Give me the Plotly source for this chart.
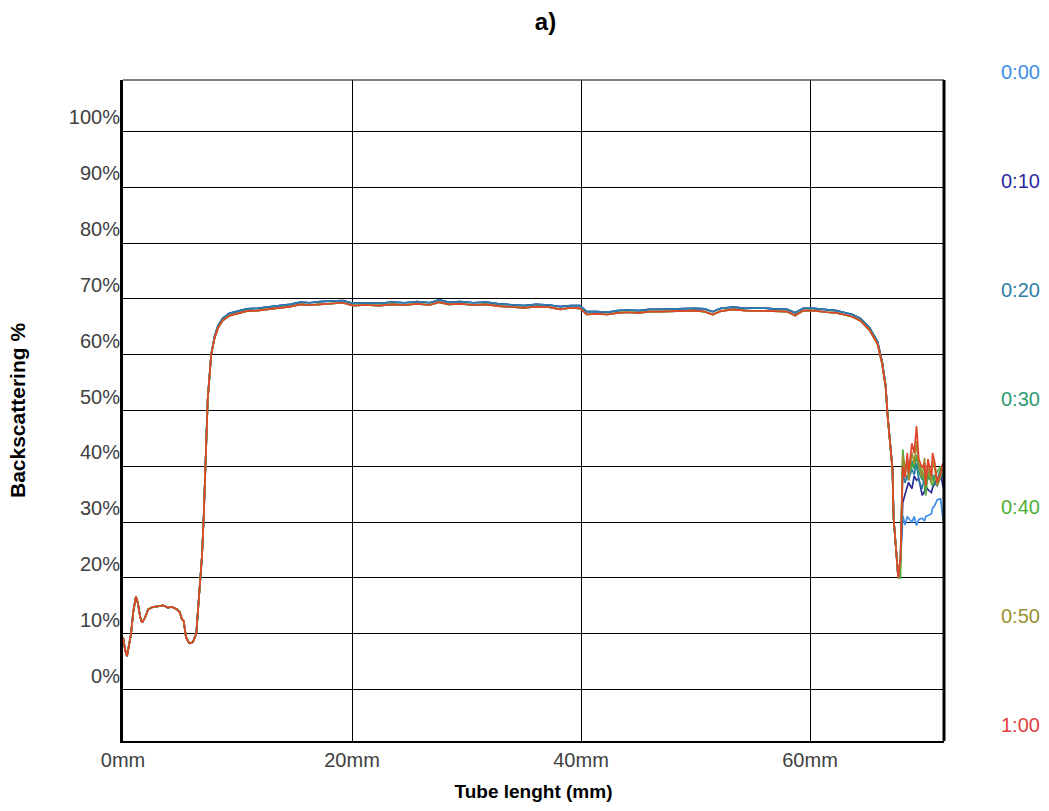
import plotly.graph_objects as go

# ---------------- data ----------------
series_names = ["0:00", "0:10", "0:20", "0:30", "0:40", "0:50", "1:00"]
series_colors = ["#3d8ee8", "#2b2c9b", "#2f7ea6", "#2e9a72", "#4fae35", "#9a9030", "#e0452a"]
text_colors = ["#3d8ee8", "#2b2c9b", "#2f7ea6", "#2e9a72", "#4fae35", "#9a9030", "#e04040"]

# tube position (mm) of the common part of the profiles
body_x = [
    0.0, 0.2, 0.35, 0.5, 0.7, 0.9, 1.13, 1.3, 1.5, 1.66,
    1.9, 2.2, 2.6, 3.0, 3.5, 3.9, 4.3, 4.7, 4.95, 5.15,
    5.3, 5.5, 5.7, 5.85, 6.1, 6.4, 6.55, 6.7, 6.9, 7.05,
    7.2, 7.4, 7.7, 8.0, 8.3, 8.7, 9.3, 10.0, 10.8, 11.7,
    12.6, 13.7, 14.6, 15.5, 16.3, 17.2, 18.2, 19.2, 20.1, 21.2,
    22.4, 23.5, 24.6, 25.7, 26.8, 27.6, 28.4, 29.5, 30.6, 31.7,
    32.8, 33.9, 35.0, 36.1, 37.2, 38.2, 39.1, 39.9, 40.5, 41.4,
    42.3, 43.2, 44.0, 45.0, 46.0, 46.9, 47.9, 48.9, 49.9, 50.8,
    51.5, 52.2, 53.3, 54.4, 55.6, 56.8, 58.0, 58.7, 59.4, 60.3,
    61.5, 62.3, 62.9, 63.7, 64.4, 65.2, 65.9, 66.3, 66.6, 66.8,
    67.2, 67.3, 67.6, 67.7,
]

# backscattering (%) of the early profiles (0:00 - 0:20)
body_early = [
    9.4, 7.0, 6.0, 7.5, 10.0, 14.0, 16.7, 15.5, 13.0, 12.0,
    12.8, 14.4, 14.8, 14.9, 15.1, 14.7, 14.8, 14.4, 13.9, 12.6,
    12.3, 9.4, 8.6, 8.3, 8.5, 10.0, 14.0, 19.4, 24.0, 31.0,
    40.0, 52.0, 60.0, 63.3, 65.2, 66.5, 67.4, 67.8, 68.2, 68.3,
    68.5, 68.7, 69.0, 69.4, 69.3, 69.5, 69.6, 69.7, 69.2, 69.3,
    69.2, 69.4, 69.3, 69.5, 69.3, 69.8, 69.4, 69.5, 69.3, 69.4,
    69.1, 68.9, 68.8, 69.0, 68.9, 68.6, 68.8, 68.8, 67.7, 67.7,
    67.6, 67.9, 68.0, 67.9, 68.1, 68.1, 68.2, 68.2, 68.3, 68.2,
    67.7, 68.3, 68.5, 68.3, 68.4, 68.2, 68.1, 67.5, 68.3, 68.3,
    68.0, 67.9, 67.6, 67.2, 66.5, 64.8, 62.3, 58.7, 54.6, 48.6,
    39.6, 30.7, 22.9, 20.0,
]

# backscattering (%) of the late profiles (0:30 - 1:00)
body_late = [
    9.4, 7.0, 6.0, 7.5, 10.0, 14.0, 16.7, 15.5, 13.0, 12.0,
    12.8, 14.4, 14.8, 14.9, 15.1, 14.7, 14.8, 14.4, 13.9, 12.6,
    12.3, 9.4, 8.6, 8.3, 8.5, 10.0, 14.0, 19.4, 24.0, 31.0,
    40.0, 52.0, 60.0, 63.0, 64.8, 66.1, 67.0, 67.4, 67.8, 67.9,
    68.1, 68.3, 68.6, 69.0, 68.9, 69.0, 69.2, 69.3, 68.8, 68.9,
    68.8, 69.0, 68.9, 69.1, 68.9, 69.4, 69.0, 69.1, 68.9, 69.0,
    68.7, 68.5, 68.4, 68.6, 68.5, 68.1, 68.4, 68.3, 67.2, 67.3,
    67.2, 67.5, 67.6, 67.5, 67.7, 67.7, 67.8, 67.8, 67.9, 67.7,
    67.2, 67.8, 68.1, 67.9, 67.9, 67.8, 67.7, 67.0, 67.9, 67.9,
    67.6, 67.5, 67.2, 66.8, 66.1, 64.4, 61.9, 58.3, 54.3, 48.4,
    39.5, 30.7, 22.9, 20.0,
]

# tube position (mm) of the noisy top part
tail_x = [
    67.9, 68.1, 68.3, 68.5, 68.6, 68.9, 69.1, 69.3, 69.5, 69.8,
    70.0, 70.1, 70.3, 70.6, 70.7, 70.9, 71.1, 71.4, 71.6, 71.8,
]

tail_000 = [22.5, 31.2, 29.5, 31.0, 30.7, 30.0, 31.0, 29.4, 30.5, 30.7,
            30.2, 31.0, 31.2, 31.5, 32.5, 33.0, 34.0, 34.2, 30.7, 28.2]
tail_010 = [23.0, 33.5, 35.0, 36.5, 37.1, 36.0, 38.3, 37.5, 37.8, 34.8,
            35.5, 36.5, 35.8, 35.3, 36.2, 37.0, 37.8, 38.8, 36.5, 35.0]
tail_020 = [23.5, 39.0, 37.0, 38.5, 37.5, 39.5, 38.5, 40.5, 37.5, 36.0,
            38.5, 36.5, 38.0, 37.5, 38.5, 37.0, 36.5, 38.0, 39.0, 36.0]
tail_030 = [23.3, 41.5, 39.5, 40.0, 38.0, 41.0, 39.5, 42.0, 39.0, 37.5,
            39.0, 36.0, 39.5, 38.0, 37.5, 38.5, 37.5, 39.5, 38.0, 38.5]
tail_040 = [20.0, 43.0, 38.8, 41.3, 39.0, 40.0, 40.5, 41.8, 40.5, 38.8,
            37.5, 34.8, 38.8, 37.0, 36.5, 38.0, 39.0, 40.0, 38.8, 39.5]
tail_050 = [23.6, 42.0, 39.5, 41.0, 37.5, 42.5, 40.5, 44.5, 40.0, 38.0,
            41.5, 37.5, 40.0, 37.0, 41.0, 39.5, 36.5, 38.5, 39.5, 40.0]
tail_100 = [23.6, 40.0, 38.0, 42.4, 38.8, 44.1, 42.4, 47.2, 41.3, 39.7,
            40.6, 36.5, 41.3, 38.3, 42.4, 40.6, 37.1, 38.8, 40.6, 39.5]

series_bodies = [body_early, body_early, body_early, body_late, body_late, body_late, body_late]
series_tails = [tail_000, tail_010, tail_020, tail_030, tail_040, tail_050, tail_100]

y_ticks = [0, 10, 20, 30, 40, 50, 60, 70, 80, 90, 100]
y_tick_text = ["0%", "10%", "20%", "30%", "40%", "50%", "60%", "70%", "80%", "90%", "100%"]
x_ticks = [0, 20, 40, 60]
x_tick_text = ["0mm", "20mm", "40mm", "60mm"]

# ---------------- figure ----------------
FONT = "Liberation Sans, Arial, sans-serif"
fig = go.Figure()

for name, color, body, tail in zip(series_names, series_colors, series_bodies, series_tails):
    fig.add_trace(go.Scatter(
        x=body_x + tail_x,
        y=body + tail,
        mode="lines",
        name=name,
        line=dict(color=color, width=1.7),
        showlegend=False,
    ))

# time labels on the right, acting as legend
for i, (name, tc) in enumerate(zip(series_names, text_colors)):
    fig.add_annotation(
        xref="paper", yref="paper",
        x=1.0 + 76 / 821, y=1 - (-8 + 110 * i) / 668,
        text=name, showarrow=False,
        font=dict(family=FONT, size=20, color=tc),
        xanchor="center", yanchor="middle",
    )

# right and top frame
fig.add_shape(type="line", xref="paper", yref="paper", x0=1, x1=1, y0=0, y1=1,
              line=dict(color="black", width=3))
fig.add_shape(type="line", xref="paper", yref="paper", x0=0, x1=1, y0=1, y1=1,
              line=dict(color="black", width=1))

fig.update_layout(
    width=1049, height=811,
    margin=dict(l=123, r=105, t=80, b=63),
    paper_bgcolor="white", plot_bgcolor="white",
    title=dict(text="<b>a)</b>", x=0.52, xanchor="center", y=1 - 22 / 811, yanchor="middle",
               font=dict(family=FONT, size=24, color="black")),
    xaxis=dict(
        range=[0, 71.7], tickvals=x_ticks, ticktext=x_tick_text,
        showgrid=True, gridcolor="black", gridwidth=1,
        showline=True, linecolor="black", linewidth=2,
        zeroline=False, ticks="",
        tickfont=dict(family=FONT, size=20, color="#404040"),
        title=dict(text="<b>Tube lenght (mm)</b>", standoff=15,
                   font=dict(family=FONT, size=19, color="black")),
    ),
    yaxis=dict(
        range=[-9.2, 109.2], tickvals=y_ticks, ticktext=y_tick_text,
        showgrid=True, gridcolor="black", gridwidth=1,
        showline=True, linecolor="black", linewidth=3,
        zeroline=False, ticks="",
        ticklabelposition="outside top",
        ticklabelstandoff=-4,
        tickfont=dict(family=FONT, size=20, color="#404040"),
        title=dict(text="<b>Backscattering %</b>", standoff=38,
                   font=dict(family=FONT, size=21, color="black")),
    ),
)

fig.write_html(
    "out.html",
    config={"displayModeBar": False},
    post_script="document.body.style.margin='0';"
                "document.body.style.overflow='hidden';"
                "document.documentElement.style.overflow='hidden';",
)
